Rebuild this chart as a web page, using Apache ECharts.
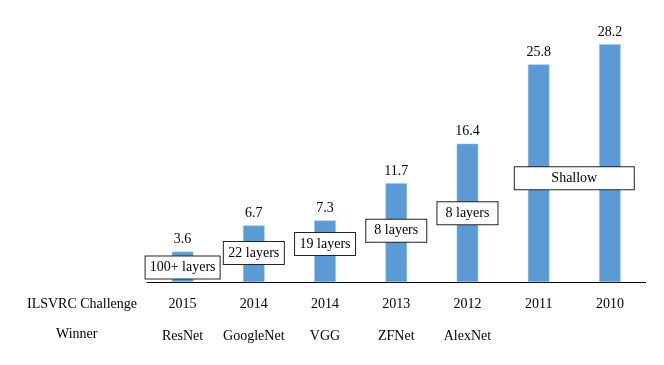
<!DOCTYPE html>
<html>
<head>
<meta charset="utf-8">
<script src="https://cdn.jsdelivr.net/npm/echarts@6/dist/echarts.min.js"></script>
<style>html,body{margin:0;padding:0;background:#fff;}#c{width:664px;height:365px;}</style>
</head>
<body>
<div id="c"></div>
<script>
const years = ['2015','2014','2014','2013','2012','2011','2010'];
const winners = ['ResNet','GoogleNet','VGG','ZFNet','AlexNet','',''];
const errorRates = [3.6, 6.7, 7.3, 11.7, 16.4, 25.8, 28.2];
const layerLabels = ['100+ layers','22 layers','19 layers','8 layers','8 layers','Shallow'];
const layerX = [0, 1, 2, 3, 4, 5.5];
const layerY = [1.72, 3.44, 4.51, 6.07, 8.15, 12.3];
const rowTitles = ['ILSVRC Challenge', 'Winner'];

const FONT = '"Liberation Serif", "Times New Roman", serif';
const chart = echarts.init(document.getElementById('c'), null, {renderer: 'canvas'});

const cv = document.createElement('canvas').getContext('2d');
cv.font = '14px ' + FONT;
function boxWidth(t, i) {
  if (layerX[i] % 1 !== 0) return 111;
  return Math.max(52, Math.ceil(cv.measureText(t).width));
}

chart.setOption({
  animation: false,
  backgroundColor: '#fff',
  textStyle: {fontFamily: FONT},
  grid: {left: 147, right: 18.5, top: 29, bottom: 83},
  xAxis: [{
    type: 'category',
    data: years.map((y, i) => y + '\n' + winners[i]),
    axisLine: {show: true, lineStyle: {color: '#000', width: 1}},
    axisTick: {show: false},
    axisLabel: {interval: 0, color: '#000', fontFamily: FONT, fontSize: 14, lineHeight: 32, margin: 6}
  }, {
    type: 'value', min: -0.5, max: 6.5, show: false
  }],
  yAxis: {type: 'value', min: 0, max: 30, show: false, splitLine: {show: false}},
  series: [{
    type: 'bar',
    data: errorRates,
    barWidth: 21.5,
    itemStyle: {color: '#5B9BD5', borderColor: '#9DC3E6', borderWidth: 0.5},
    label: {show: true, position: 'top', distance: 5, color: '#000', fontFamily: FONT, fontSize: 14}
  }, {
    type: 'scatter',
    xAxisIndex: 1,
    symbolSize: 0,
    z: 5,
    itemStyle: {opacity: 1},
    data: layerLabels.map((t, i) => ({
      value: [layerX[i], layerY[i]],
      name: t,
      label: {width: boxWidth(t, i)}
    })),
    label: {
      show: true, position: 'inside', formatter: p => p.name, opacity: 1,
      color: '#000', fontFamily: FONT, fontSize: 14, lineHeight: 16, align: 'center',
      backgroundColor: '#fff', borderColor: '#222', borderWidth: 1, padding: [3, 4]
    }
  }],
  graphic: [{
    type: 'text', left: 27, top: 297,
    style: {text: rowTitles[0], fill: '#000', font: '14px ' + FONT}
  }, {
    type: 'text', left: 56, top: 327,
    style: {text: rowTitles[1], fill: '#000', font: '14px ' + FONT}
  }]
});
</script>
</body>
</html>
